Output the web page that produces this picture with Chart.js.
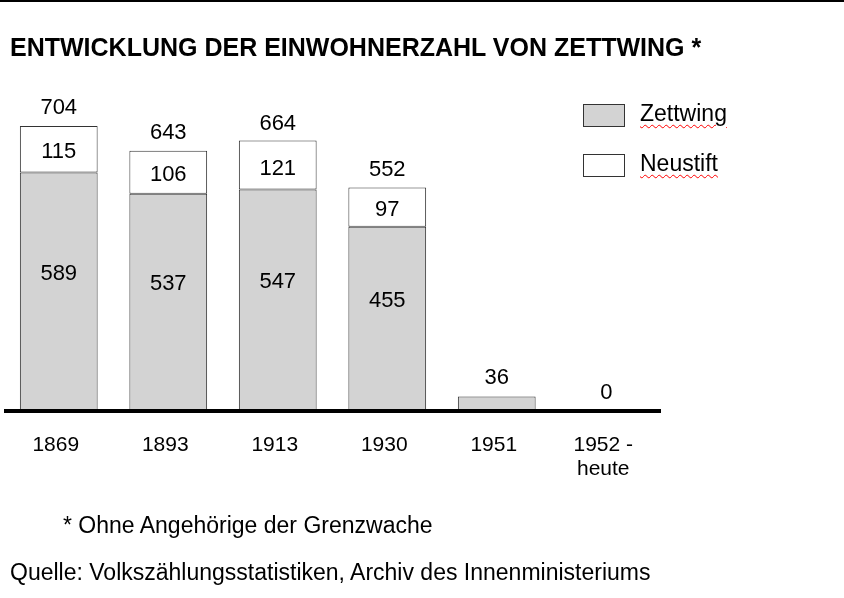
<!DOCTYPE html>
<html><head><meta charset="utf-8">
<script src="https://cdn.jsdelivr.net/npm/chart.js@4"></script>
<style>
  body { margin: 0; background: #fff; font-family: "Liberation Sans", Arial, sans-serif; }
  #wrap { position: relative; width: 844px; height: 598px; border-top: 2px solid #000; box-sizing: border-box; }
  canvas { position: absolute; left: 0; top: -2px; }
  .t { position: absolute; white-space: nowrap; color: #000; line-height: 1; }
  .sq { position: absolute; width: 42px; height: 23px; border: 1px solid #333; box-sizing: border-box; }
  .wavy { text-decoration: underline wavy red; text-decoration-thickness: 1px; text-underline-offset: 3px; }
</style></head>
<body><div id="wrap">
  <canvas id="c" width="844" height="598"></canvas>
  <div class="t" style="left:10px;top:33px;font-size:25px;font-weight:bold">ENTWICKLUNG DER EINWOHNERZAHL VON ZETTWING *</div>
  <div class="sq" style="left:583px;top:102px;background:#d3d3d3"></div>
  <div class="t wavy" style="left:640px;top:100px;font-size:23px">Zettwing</div>
  <div class="sq" style="left:583px;top:152px;background:#fff"></div>
  <div class="t wavy" style="left:640px;top:150px;font-size:23px">Neustift</div>
  <div class="t" style="left:63px;top:512px;font-size:23px">* Ohne Angehörige der Grenzwache</div>
  <div class="t" style="left:10px;top:559px;font-size:23px">Quelle: Volkszählungsstatistiken, Archiv des Innenministeriums</div>
</div>
<script>
const years = [['1869'], ['1893'], ['1913'], ['1930'], ['1951'], ['1952 -', 'heute']];
const zettwing = [589, 537, 547, 455, 36, 0];
const neustift = [115, 106, 121, 97, 0, 0];
const totals = [704, 643, 664, 552, 36, 0];

const labelPlugin = {
  id: 'labels',
  afterDatasetsDraw(chart) {
    const { ctx, chartArea: a, scales: { x, y } } = chart;
    ctx.save();
    ctx.fillStyle = '#000';
    ctx.textAlign = 'center';
    ctx.textBaseline = 'middle';
    ctx.font = '22px "Liberation Sans", Arial, sans-serif';
    years.forEach((yr, i) => {
      const cx = x.getPixelForValue(i);
      if (zettwing[i] > 100) ctx.fillText(zettwing[i], cx, (y.getPixelForValue(0) + y.getPixelForValue(zettwing[i])) / 2 - 18);
      if (neustift[i] > 0) ctx.fillText(neustift[i], cx, (y.getPixelForValue(zettwing[i]) + y.getPixelForValue(totals[i])) / 2 + 3);
      ctx.fillText(totals[i], cx, y.getPixelForValue(totals[i]) - 18);
    });
    // base line
    ctx.fillRect(a.left, a.bottom - 2, a.right - a.left, 4);
    ctx.font = '21px "Liberation Sans", Arial, sans-serif';
    years.forEach((yr, i) => {
      const cx = x.getPixelForValue(i) - 3;
      yr.forEach((s, j) => ctx.fillText(s, cx, a.bottom + 34 + j * 24));
    });
    ctx.restore();
  }
};

new Chart(document.getElementById('c'), {
  type: 'bar',
  data: {
    labels: years.map((l) => l.join(' ')),
    datasets: [
      { label: 'Zettwing', data: zettwing, backgroundColor: '#d3d3d3', borderColor: '#333', borderWidth: 1, borderSkipped: false },
      { label: 'Neustift', data: neustift, backgroundColor: '#fff', borderColor: '#333', borderWidth: 1, borderSkipped: false }
    ]
  },
  options: {
    responsive: false, animation: false, devicePixelRatio: 1,
    layout: { padding: { left: 4, right: 183, top: 90, bottom: 187 } },
    datasets: { bar: { categoryPercentage: 0.71, barPercentage: 1 } },
    plugins: { legend: { display: false }, tooltip: { enabled: false } },
    scales: {
      x: { stacked: true, display: false },
      y: { stacked: true, display: false, min: 0, max: 793 }
    }
  },
  plugins: [labelPlugin]
});
</script></body></html>
